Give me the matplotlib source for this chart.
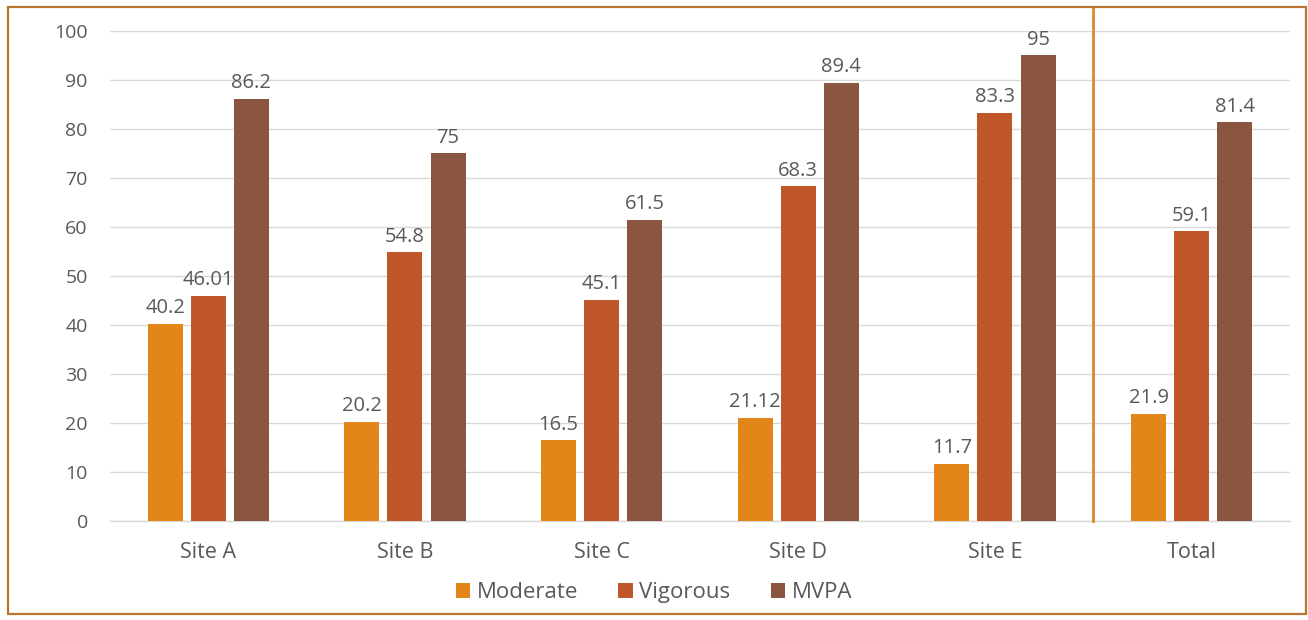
import numpy as np
import matplotlib
matplotlib.use("Agg")
import matplotlib.pyplot as plt
from matplotlib.patches import Patch, Rectangle

# chart data
categories = ["Site A", "Site B", "Site C", "Site D", "Site E", "Total"]
moderate = [40.2, 20.2, 16.5, 21.12, 11.7, 21.9]
vigorous = [46.01, 54.8, 45.1, 68.3, 83.3, 59.1]
mvpa = [86.2, 75, 61.5, 89.4, 95, 81.4]
value_labels = {
    "Moderate": ["40.2", "20.2", "16.5", "21.12", "11.7", "21.9"],
    "Vigorous": ["46.01", "54.8", "45.1", "68.3", "83.3", "59.1"],
    "MVPA": ["86.2", "75", "61.5", "89.4", "95", "81.4"],
}
y_ticks = list(range(0, 101, 10))

colors = {"Moderate": "#E2861A", "Vigorous": "#BF572B", "MVPA": "#8A5640"}
text_color = "#595959"
grid_color = "#D9D9D9"

plt.rcParams["font.family"] = ["Open Sans", "DejaVu Sans"]

fig = plt.figure(figsize=(13.08, 6.2), dpi=100)
ax = fig.add_axes([0.0841, 0.1597, 0.9021, 0.7903])

x = np.arange(len(categories))
width = 0.178
step = 0.219
series = [("Moderate", moderate), ("Vigorous", vigorous), ("MVPA", mvpa)]
for i, (name, vals) in enumerate(series):
    pos = x + (i - 1) * step
    bars = ax.bar(pos, vals, width, color=colors[name], zorder=3)
    for b, lab in zip(bars, value_labels[name]):
        ax.annotate(lab, (b.get_x() + b.get_width() / 2, b.get_height()),
                    xytext=(0, 4), textcoords="offset points",
                    ha="center", va="bottom", fontsize=14.5, color=text_color)

ax.set_xlim(-0.5, len(categories) - 0.5)
ax.set_ylim(0, 100)
ax.set_yticks(y_ticks)
ax.set_xticks(x)
ax.set_xticklabels(categories)
ax.tick_params(axis="y", length=0, pad=16, labelsize=14, labelcolor=text_color)
ax.tick_params(axis="x", length=0, pad=15, labelsize=15.5, labelcolor=text_color)
ax.yaxis.grid(True, color=grid_color, linewidth=1, zorder=0)
for s in ["top", "right", "left"]:
    ax.spines[s].set_visible(False)
ax.spines["bottom"].set_color(grid_color)
ax.spines["bottom"].set_linewidth(1)

# separator between sites and total
ax.axvline(4.5, ymin=0, ymax=1.049, color="#E0862A", linewidth=2,
           clip_on=False, zorder=4)

handles = [Patch(facecolor=colors[n], label=n) for n, _ in series]
fig.legend(handles=handles, loc="center", bbox_to_anchor=(0.5, 0.044),
           ncol=3, frameon=False, fontsize=16, handlelength=0.65,
           handleheight=0.65, handletextpad=0.3, columnspacing=1.8,
           labelcolor=text_color)

fig.patches.append(Rectangle((0.0061, 0.0097), 0.9924, 0.979,
                             transform=fig.transFigure, fill=False,
                             edgecolor="#B8762C", linewidth=1.6))

fig.savefig("out.png", dpi=100)
